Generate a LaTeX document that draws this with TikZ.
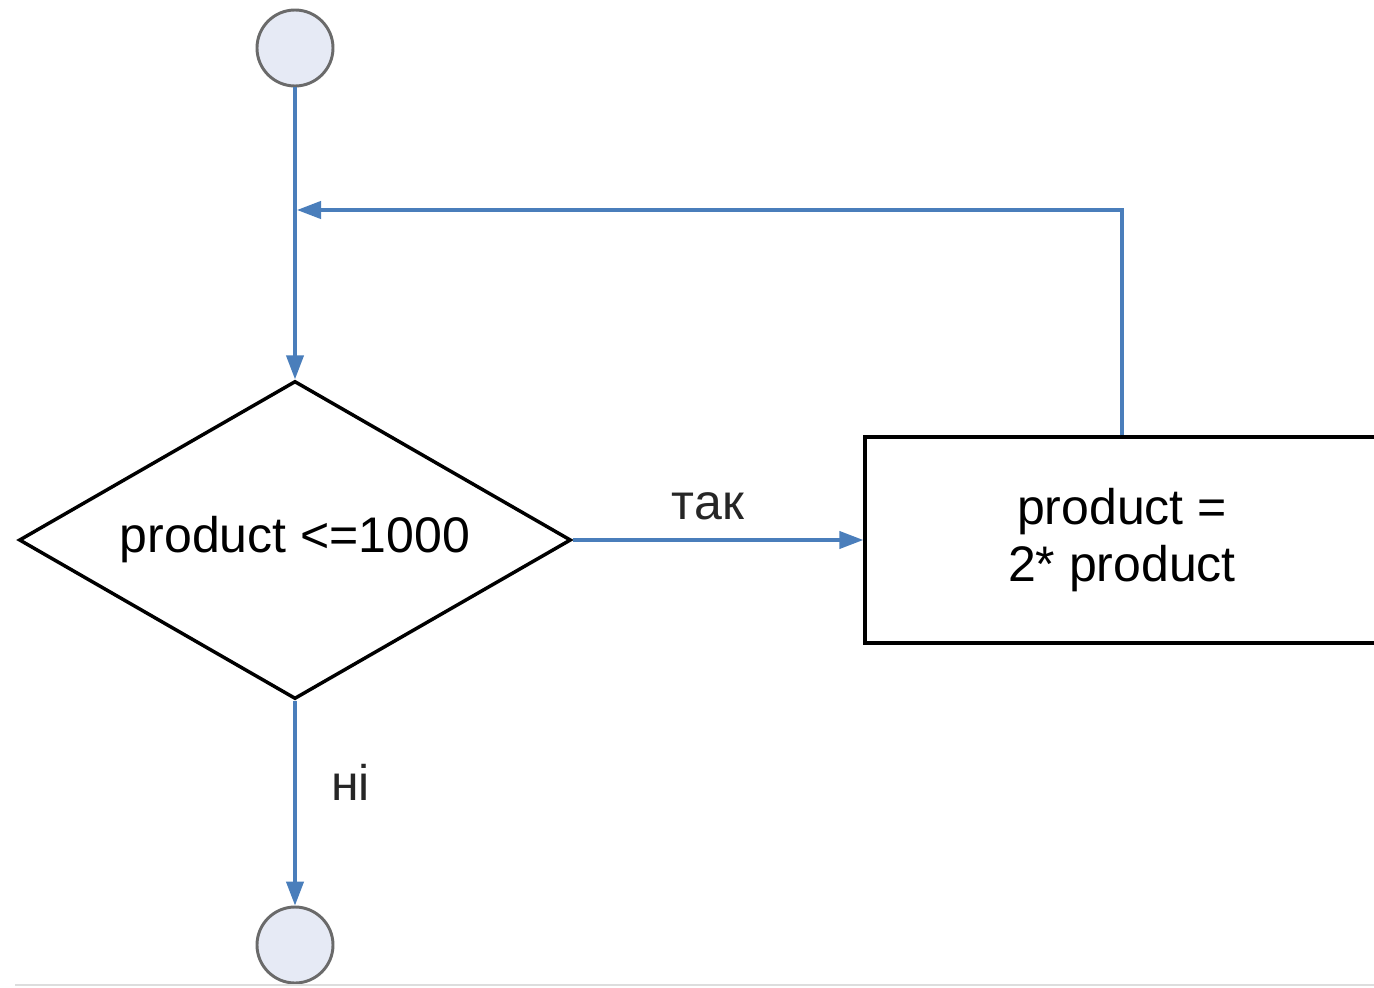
\documentclass[tikz,border=0pt]{standalone}
\usepackage{fontspec}
\setmainfont{Liberation Sans}
\usetikzlibrary{shapes.geometric,arrows.meta}
\definecolor{flowblue}{HTML}{4A7EBB}
\definecolor{termfill}{HTML}{E6EAF5}
\definecolor{termedge}{HTML}{6A6A6A}
\definecolor{rulegray}{HTML}{DDDDDD}
\tikzset{
  every node/.style={font=\fontsize{37.5}{42.75}\selectfont},
  term/.style={circle, draw=termedge, fill=termfill, line width=2.2pt,
    minimum size=57pt, inner sep=0pt},
  decision/.style={diamond, draw=black, line width=2.6pt, inner sep=0pt,
    aspect=1.736, minimum width=414pt, minimum height=238.5pt},
  procbox/.style={rectangle, draw=black, line width=2.6pt, align=center,
    minimum width=385.5pt, minimum height=154.5pt},
  flow/.style={draw=flowblue, line width=2.4pt,
    -{Triangle[length=18pt,width=13pt]}},
  lbl/.style={inner sep=0pt, text=black!85}
}
\begin{document}
\begin{tikzpicture}[x=0.75pt,y=-0.75pt]
  \useasboundingbox (0,0) rectangle (1374,988);
  \fill[white] (0,0) rectangle (1374,988);

  % shapes
  \node[term] (start) at (295,48) {};
  \node[decision] (dec) at (295,540) {\raisebox{-4pt}{product <=1000}};
  \node[procbox] (proc) at (1122,540) {product =\\2* product};
  \node[term] (stop) at (295,945) {};
  \coordinate (join) at (295,210);

  % connectors
  \draw[flow] (start.south) -- (dec.north);
  \draw[flow] (proc.north) -- (proc.north |- join) -- ([xshift=1.5pt]join);
  \draw[flow] (dec.east) -- node[lbl, above=14pt, xshift=-7.5pt] (yes) {так} (proc.west);
  \draw[flow] (dec.south) -- node[lbl, right=26pt, pos=0.4] (no) {ні} (stop.north);

  % base rule
  \draw[rulegray, line width=2.2pt] (15,985) -- (1374,985);
\end{tikzpicture}
\end{document}
